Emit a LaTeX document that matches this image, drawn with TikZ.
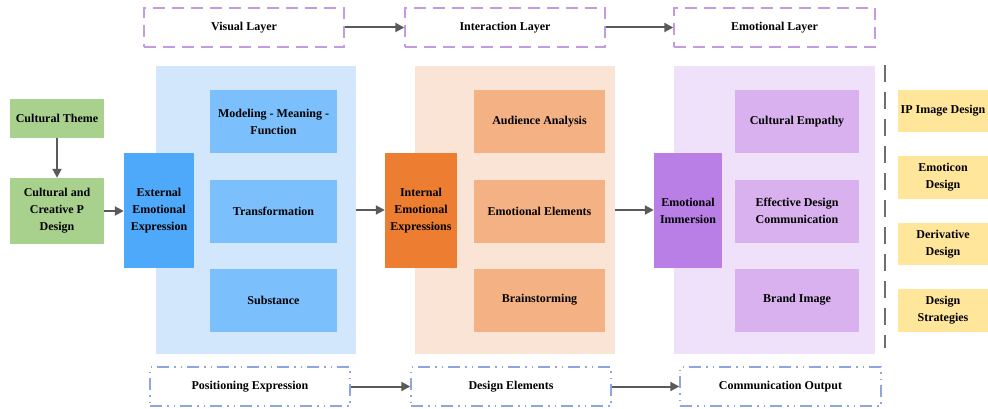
\documentclass[tikz,border=0pt]{standalone}
\usepackage{fontspec}
\setmainfont{Liberation Serif}
\usetikzlibrary{arrows.meta}
\definecolor{cgreen}{HTML}{A9D18E}
\definecolor{bpan}{HTML}{D3E7FC}
\definecolor{binn}{HTML}{7BBFFD}
\definecolor{bdark}{HTML}{4FA9FA}
\definecolor{opan}{HTML}{FAE4D5}
\definecolor{oinn}{HTML}{F4B184}
\definecolor{odark}{HTML}{ED7D31}
\definecolor{ppan}{HTML}{EFE1F9}
\definecolor{pinn}{HTML}{D8B1EE}
\definecolor{pdark}{HTML}{B97FE6}
\definecolor{cyel}{HTML}{FFE69A}
\definecolor{topdash}{HTML}{C29BE4}
\definecolor{botdash}{HTML}{8FA4E1}
\definecolor{arr}{HTML}{5A5A5A}
\definecolor{vline}{HTML}{6E6E6E}
\tikzset{
  box/.style={inner sep=0pt, align=center, font=\fontsize{12}{17}\selectfont\bfseries, text=black},
  topbox/.style={box, draw=topdash, line width=1.4pt, dash pattern=on 12pt off 7pt},
  botbox/.style={box, draw=botdash, line width=1.4pt, dash pattern=on 12pt off 5pt on 1.5pt off 5pt on 1.5pt off 5pt},
  conn/.style={draw=arr, line width=2pt, -{Triangle[length=9pt,width=9pt]}},
}
\begin{document}
\begin{tikzpicture}[x=1pt,y=-1pt]
\useasboundingbox (0,0) rectangle (988,409);
% panels
\node[box, fill=bpan, minimum width=200pt, minimum height=288pt] (bpanel) at (256,210) {};
\node[box, fill=opan, minimum width=200pt, minimum height=288pt] (opanel) at (515,210) {};
\node[box, fill=ppan, minimum width=201pt, minimum height=288pt] (ppanel) at (774.5,210) {};
% green
\node[box, fill=cgreen, minimum width=94pt, minimum height=39pt] (ct) at (57,118.5) {Cultural Theme};
\node[box, fill=cgreen, minimum width=94pt, minimum height=66pt] (ccp) at (57,211) {Cultural and\\Creative P\\Design};
% dark boxes
\node[box, fill=bdark, minimum width=70pt, minimum height=115pt] (ext) at (159,210.5) {External\\Emotional\\Expression};
\node[box, fill=odark, minimum width=72pt, minimum height=115pt] (int) at (421,210.5) {Internal\\Emotional\\Expressions};
\node[box, fill=pdark, minimum width=68pt, minimum height=115pt] (emo) at (688,210.5) {Emotional\\Immersion};
% inner boxes
\node[box, fill=binn, minimum width=127pt, minimum height=63pt] (b1) at (273.5,121.5) {Modeling - Meaning -\\Function};
\node[box, fill=binn, minimum width=127pt, minimum height=63pt] (b2) at (273.5,211) {Transformation};
\node[box, fill=binn, minimum width=127pt, minimum height=63pt] (b3) at (273.5,300) {Substance};
\node[box, fill=oinn, minimum width=131pt, minimum height=63pt] (o1) at (539.5,121.5) {Audience Analysis};
\node[box, fill=oinn, minimum width=131pt, minimum height=63pt] (o2) at (539.5,211) {Emotional Elements};
\node[box, fill=oinn, minimum width=131pt, minimum height=63pt] (o3) at (539.5,300) {Brainstorming};
\node[box, fill=pinn, minimum width=124pt, minimum height=63pt] (p1) at (797,121.5) {Cultural Empathy};
\node[box, fill=pinn, minimum width=124pt, minimum height=63pt] (p2) at (797,211) {Effective Design\\Communication};
\node[box, fill=pinn, minimum width=124pt, minimum height=63pt] (p3) at (797,300) {Brand Image};
% yellow
\node[box, fill=cyel, minimum width=90pt, minimum height=42pt] (y1) at (943,111) {IP Image Design};
\node[box, fill=cyel, minimum width=90pt, minimum height=42pt] (y2) at (943,177.5) {Emoticon\\Design};
\node[box, fill=cyel, minimum width=90pt, minimum height=42pt] (y3) at (943,244) {Derivative\\Design};
\node[box, fill=cyel, minimum width=90pt, minimum height=43pt] (y4) at (943,310.5) {Design\\Strategies};
% separator
\coordinate (s1) at (885,65);
\coordinate (s2) at (885,348);
\draw[vline, line width=1.5pt, dash pattern=on 17pt off 10pt] (s1) -- (s2);
% top layers
\node[topbox, minimum width=200pt, minimum height=39pt] (vl) at (244,27.5) {Visual Layer};
\node[topbox, minimum width=200pt, minimum height=39pt] (il) at (505,27.5) {Interaction Layer};
\node[topbox, minimum width=201pt, minimum height=39pt] (el) at (774.5,27.5) {Emotional Layer};
% bottom
\node[botbox, minimum width=200pt, minimum height=39pt] (pe) at (250,386.5) {Positioning Expression};
\node[botbox, minimum width=200pt, minimum height=39pt] (de) at (511,386.5) {Design Elements};
\node[botbox, minimum width=201pt, minimum height=39pt] (co) at (780.5,386.5) {Communication Output};
% connectors
\draw[conn] (ct) -- (ccp);
\draw[conn] (ccp.east) -- (ccp.east -| ext.west);
\draw[conn] (bpanel.east) -- (bpanel.east -| int.west);
\draw[conn] (opanel.east) -- (opanel.east -| emo.west);
\draw[conn] (vl) -- (il);
\draw[conn] (il) -- (el);
\draw[conn] (pe) -- (de);
\draw[conn] (de) -- (co);
\end{tikzpicture}
\end{document}
